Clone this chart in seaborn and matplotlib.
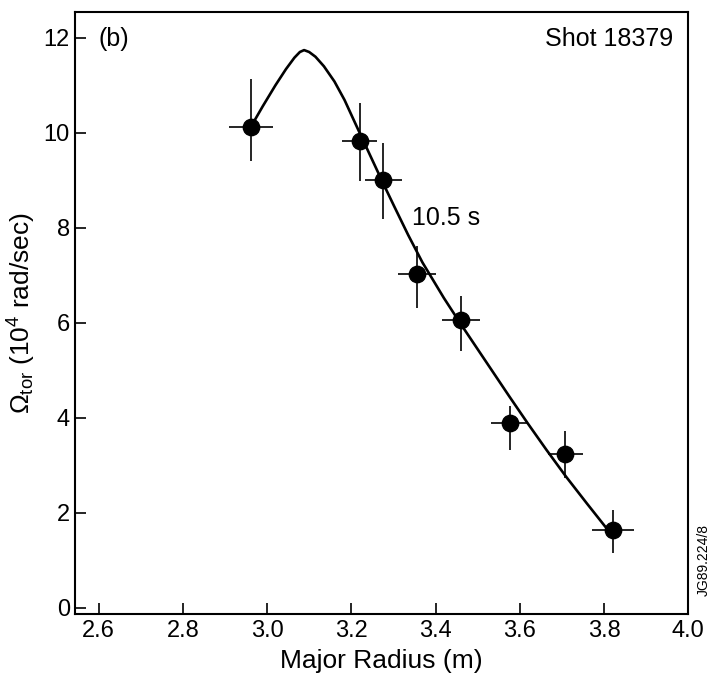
import numpy as np
import pandas as pd
import matplotlib
matplotlib.use("Agg")
import matplotlib.pyplot as plt
import seaborn as sns

# measured points (major radius in m, rotation in 1e4 rad/sec)
radius = [2.962, 3.220, 3.276, 3.357, 3.461, 3.576, 3.708, 3.821]
omega = [10.13, 9.83, 9.01, 7.03, 6.05, 3.90, 3.23, 1.64]
omega_err_up = [1.00, 0.80, 0.77, 0.58, 0.52, 0.35, 0.50, 0.41]
omega_err_down = [0.72, 0.84, 0.82, 0.71, 0.65, 0.57, 0.49, 0.48]
radius_err = [0.052, 0.041, 0.044, 0.045, 0.045, 0.044, 0.042, 0.050]

# fitted profile
fit_radius = [2.962, 2.990, 3.020, 3.045, 3.065, 3.078, 3.088, 3.100, 3.115,
              3.135, 3.160, 3.184, 3.212, 3.245, 3.276, 3.302, 3.335, 3.369,
              3.420, 3.461, 3.520, 3.576, 3.620, 3.663, 3.710, 3.760, 3.802,
              3.820]
fit_omega = [10.13, 10.56, 11.00, 11.34, 11.58, 11.70, 11.74, 11.70, 11.60,
             11.40, 11.08, 10.69, 10.15, 9.52, 8.93, 8.45, 7.85, 7.27,
             6.52, 5.96, 5.18, 4.44, 3.87, 3.33, 2.76, 2.19, 1.72,
             1.52]

x_ticks = [2.6, 2.8, 3.0, 3.2, 3.4, 3.6, 3.8, 4.0]
y_ticks = [0, 2, 4, 6, 8, 10, 12]

sns.set_style("ticks")
plt.rcParams['font.family'] = ['Liberation Sans', 'DejaVu Sans']
plt.rcParams['mathtext.fontset'] = 'custom'
plt.rcParams['mathtext.rm'] = 'Liberation Sans'
plt.rcParams['mathtext.it'] = 'Liberation Sans'
for key in ['text.color', 'axes.labelcolor', 'xtick.color', 'ytick.color']:
    plt.rcParams[key] = 'black'

pts = pd.DataFrame({"radius": radius, "omega": omega})
fit = pd.DataFrame({"radius": fit_radius, "omega": fit_omega})

fig = plt.figure(figsize=(7.11, 6.83), dpi=100)
ax = fig.add_axes([0.106, 0.101, 0.862, 0.882])

sns.lineplot(data=fit, x="radius", y="omega", ax=ax, color="black",
             linewidth=1.9, sort=False)
ax.errorbar(radius, omega, xerr=radius_err,
            yerr=[omega_err_down, omega_err_up], fmt="none",
            ecolor="black", elinewidth=1.2, capsize=0)
sns.scatterplot(data=pts, x="radius", y="omega", ax=ax, color="black",
                s=140, edgecolor="black", zorder=5)

ax.set_xlim(2.545, 4.0)
ax.set_ylim(-0.13, 12.55)
ax.set_xticks(x_ticks)
ax.set_xticklabels([f"{t:.1f}" for t in x_ticks])
ax.set_yticks(y_ticks)
ax.tick_params(direction="in", length=8, width=1.2, labelsize=17,
               colors="black", pad=4)
for s in ax.spines.values():
    s.set_linewidth(1.5)
    s.set_color("black")

ax.set_xlabel("Major Radius (m)", fontsize=19, labelpad=5)
ax.set_ylabel(r"$\Omega_{\rm tor}$ (10$^4$ rad/sec)", fontsize=19, labelpad=4)

ax.text(0.037, 0.975, "(b)", transform=ax.transAxes, fontsize=18,
        ha="left", va="top")
ax.text(0.975, 0.975, "Shot 18379", transform=ax.transAxes, fontsize=18,
        ha="right", va="top")
ax.text(3.345, 8.2, "10.5 s", fontsize=18, ha="left", va="center")
fig.text(0.99, 0.18, "JG89.224/8", rotation=90, fontsize=10,
         ha="center", va="center")

fig.savefig("out.png", dpi=100)
